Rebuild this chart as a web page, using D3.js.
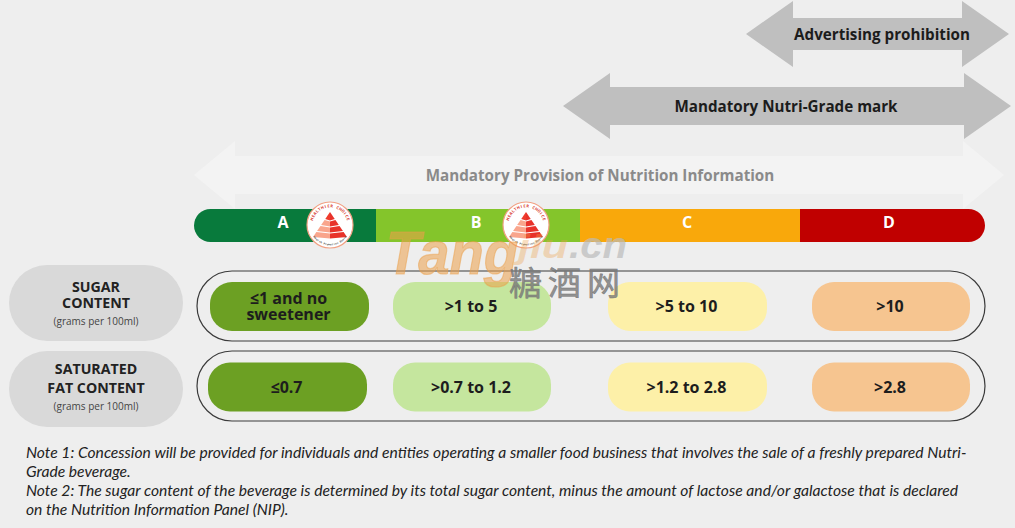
<!DOCTYPE html>
<html>
<head>
<meta charset="utf-8">
<script src="https://cdn.jsdelivr.net/npm/d3@7"></script>
<style>
  html, body { margin: 0; padding: 0; background: #eeeeee; }
  svg { display: block; }
</style>
</head>
<body>
<svg id="chart" width="1015" height="528"></svg>
<script>
// Chart content
var grades = ["A", "B", "C", "D"];
var gradeColors = ["#087a3c", "#84c52b", "#f9a80b", "#c00000"];
var sugarLabels = [["≤1 and no", "sweetener"], [">1 to 5"], [">5 to 10"], [">10"]];
var fatLabels = [["≤0.7"], [">0.7 to 1.2"], [">1.2 to 2.8"], [">2.8"]];
var pillColors = ["#6ca023", "#c5e69e", "#fdf0a8", "#f6c590"];
var rowTitles = [["SUGAR", "CONTENT"], ["SATURATED", "FAT CONTENT"]];
var rowUnit = "(grams per 100ml)";
var arrowLabels = ["Advertising prohibition", "Mandatory Nutri-Grade mark", "Mandatory Provision of Nutrition Information"];
var notes = [
  "Note 1: Concession will be provided for individuals and entities operating a smaller food business that involves the sale of a freshly prepared Nutri-",
  "Grade beverage.",
  "Note 2: The sugar content of the beverage is determined by its total sugar content, minus the amount of lactose and/or galactose that is declared",
  "on the Nutrition Information Panel (NIP)."
];

var svg = d3.select("#chart");
var FONT = "'Open Sans', sans-serif";
var MARK_FONT = "'Liberation Sans', sans-serif";

var gradeEdge = d3.scaleLinear().domain([0, 1, 2, 3, 4]).range([194, 376, 580, 800, 985]);

// Page backdrop
svg.append("rect").attr("width", 1015).attr("height", 528).attr("fill", "#eeeeee");

// Double headed arrows
function arrow(left, right, cy, halfBody, halfHead, headLen, fill) {
  var pts = [
    [left, cy], [left + headLen, cy - halfHead], [left + headLen, cy - halfBody],
    [right - headLen, cy - halfBody], [right - headLen, cy - halfHead], [right, cy],
    [right - headLen, cy + halfHead], [right - headLen, cy + halfBody],
    [left + headLen, cy + halfBody], [left + headLen, cy + halfHead]
  ];
  svg.append("path").attr("d", d3.line()(pts) + "Z").attr("fill", fill);
}
arrow(194, 1004, 175, 19, 34, 41, "#f3f3f3");
arrow(563, 1011, 106, 19, 33, 47, "#bfbfbf");
arrow(746, 1009, 34, 16, 33, 47, "#bfbfbf");

var arrowText = [[882, 40, "#1c1c1c"], [786, 112, "#1c1c1c"], [600, 181, "#8a8a8a"]];
arrowLabels.forEach(function (t, i) {
  svg.append("text").attr("x", arrowText[i][0]).attr("y", arrowText[i][1]).attr("text-anchor", "middle")
    .attr("font-family", FONT).attr("font-weight", 700).attr("font-size", 15.2).attr("fill", arrowText[i][2])
    .text(t);
});

// Grade bar, clipped to a rounded shape
var defs = svg.append("defs");
defs.append("clipPath").attr("id", "barClip").append("rect")
  .attr("x", gradeEdge(0)).attr("y", 209).attr("width", gradeEdge(4) - gradeEdge(0)).attr("height", 33).attr("rx", 16.5);

svg.append("g").attr("clip-path", "url(#barClip)")
  .selectAll("rect").data(grades).join("rect")
  .attr("x", (d, i) => gradeEdge(i))
  .attr("y", 209)
  .attr("width", (d, i) => gradeEdge(i + 1) - gradeEdge(i))
  .attr("height", 33)
  .attr("fill", (d, i) => gradeColors[i]);

var gradeLabelX = [283, 476, 687, 889];
svg.selectAll("text.grade").data(grades).join("text").attr("class", "grade")
  .attr("x", (d, i) => gradeLabelX[i]).attr("y", 222).attr("dy", "0.35em")
  .attr("text-anchor", "middle").attr("font-family", FONT).attr("font-weight", 700)
  .attr("font-size", 16).attr("fill", "#ffffff")
  .text(d => d);

// Letters set one by one around the badge rim
function rimText(g, str, radius, spread, flip, size, color) {
  var angle = d3.scalePoint().domain(d3.range(str.length)).range([-spread, spread]);
  g.selectAll(null).data(str.split("")).join("text")
    .attr("transform", function (d, i) {
      var a = angle(i);
      var rad = a * Math.PI / 180;
      var x = Math.sin(rad) * radius;
      var y = (flip ? 1 : -1) * Math.cos(rad) * radius;
      return "translate(" + x + "," + y + ") rotate(" + (flip ? -a : a) + ")";
    })
    .attr("text-anchor", "middle").attr("dy", "0.35em")
    .attr("font-family", FONT).attr("font-weight", 700).attr("font-size", size).attr("fill", color)
    .text(d => d);
}

// Healthier Choice badge
function badge(cx, cy) {
  var g = svg.append("g").attr("transform", "translate(" + cx + "," + cy + ")");
  g.append("circle").attr("r", 23).attr("fill", "#ffffff").attr("stroke", "#f2a184").attr("stroke-width", 1.2);
  // pyramid tiers, pale on the left and red on the right
  var tiers = [[-13, -6], [-5, 0], [1, 6], [7, 12]];
  tiers.forEach(function (t, i) {
    var topW = (t[0] + 13) * 0.68, botW = (t[1] + 13) * 0.68;
    g.append("path").attr("d", d3.line()([[-topW, t[0]], [0, t[0] + 1.5], [0, t[1] + 1.5], [-botW, t[1]]]) + "Z")
      .attr("fill", i === 0 ? "#ef3b2c" : "#f9a58c");
    g.append("path").attr("d", d3.line()([[topW, t[0]], [0, t[0] + 1.5], [0, t[1] + 1.5], [botW, t[1]]]) + "Z")
      .attr("fill", "#e8322a");
  });
  rimText(g, "HEALTHIER CHOICE", 19, 72, false, 4, "#d8352b");
  rimText(g, "Health Promotion Board", 19.5, 52, true, 2.6, "#555555");
}
badge(330, 225);
badge(526, 225);

// Row title pills
svg.selectAll("rect.rowtitle").data(rowTitles).join("rect").attr("class", "rowtitle")
  .attr("x", 9).attr("y", (d, i) => i === 0 ? 265 : 351)
  .attr("width", 174).attr("height", 76).attr("rx", 38)
  .attr("fill", "#d9d9d9");

var titleBase = [[292, 308], [374, 393]];
rowTitles.forEach(function (lines, r) {
  lines.forEach(function (t, k) {
    svg.append("text").attr("x", 96).attr("y", titleBase[r][k]).attr("text-anchor", "middle")
      .attr("font-family", FONT).attr("font-weight", 700).attr("font-size", 14.2).attr("fill", "#222222")
      .text(t);
  });
  svg.append("text").attr("x", 96).attr("y", r === 0 ? 325 : 410).attr("text-anchor", "middle")
    .attr("font-family", FONT).attr("font-size", 10).attr("fill", "#444444")
    .text(rowUnit);
});

// Outline around each row of thresholds
[271, 351].forEach(function (y) {
  svg.append("rect").attr("x", 197).attr("y", y).attr("width", 788).attr("height", 70)
    .attr("rx", 35).attr("fill", "none").attr("stroke", "#3a3a3a").attr("stroke-width", 1.2);
});

// Threshold pills
var pillLeft = [[210, 393, 608, 812], [208, 393, 608, 812]];
var pillWidth = [159, 158, 159, 158];
var pillTop = [282, 362.5];

[sugarLabels, fatLabels].forEach(function (labels, r) {
  var row = svg.append("g");
  row.selectAll("rect").data(labels).join("rect")
    .attr("x", (d, i) => pillLeft[r][i]).attr("y", pillTop[r])
    .attr("width", (d, i) => pillWidth[i]).attr("height", 49).attr("rx", 22)
    .attr("fill", (d, i) => pillColors[i]);
  labels.forEach(function (lines, i) {
    var cx = pillLeft[r][i] + pillWidth[i] / 2 - 1;
    var cy = pillTop[r] + 24.5;
    lines.forEach(function (t, k) {
      row.append("text").attr("x", cx).attr("y", cy + (k - (lines.length - 1) / 2) * 16)
        .attr("dy", "0.36em").attr("text-anchor", "middle")
        .attr("font-family", FONT).attr("font-weight", 700).attr("font-size", 16)
        .attr("fill", "#1d1d1d").text(t);
    });
  });
});

// Watermark
svg.append("text").attr("x", 386).attr("y", 274)
  .attr("font-family", MARK_FONT).attr("font-weight", 700).attr("font-style", "italic")
  .attr("font-size", 62).attr("textLength", 132).attr("lengthAdjust", "spacingAndGlyphs")
  .attr("stroke", "#eca04a").attr("stroke-width", 1.2).attr("stroke-opacity", 0.5)
  .attr("fill", "#eca04a").attr("fill-opacity", 0.55).text("Tang");
svg.append("text").attr("x", 518).attr("y", 258)
  .attr("font-family", MARK_FONT).attr("font-weight", 700).attr("font-style", "italic")
  .attr("font-size", 34).attr("textLength", 50).attr("lengthAdjust", "spacingAndGlyphs")
  .attr("fill", "#eca04a").attr("fill-opacity", 0.35).text("jiu");
svg.append("text").attr("x", 569).attr("y", 258)
  .attr("font-family", MARK_FONT).attr("font-weight", 700).attr("font-style", "italic")
  .attr("font-size", 36).attr("textLength", 58).attr("lengthAdjust", "spacingAndGlyphs")
  .attr("fill", "#bbbbbb").attr("fill-opacity", 0.7).text(".cn");
svg.append("text").attr("x", 509).attr("y", 295)
  .attr("font-family", "'Noto Sans CJK SC', serif").attr("font-size", 33)
  .attr("stroke", "#777777").attr("stroke-width", 0.5)
  .attr("fill", "#777777").attr("fill-opacity", 0.8).attr("letter-spacing", 6).text("糖酒网");

// Notes
svg.selectAll("text.note").data(notes).join("text").attr("class", "note")
  .attr("x", 26).attr("y", (d, i) => 457.7 + i * 19)
  .attr("font-family", "Lato, sans-serif").attr("font-style", "italic").attr("font-size", 15.65)
  .attr("fill", "#222222")
  .text(d => d);
</script>
</body>
</html>
